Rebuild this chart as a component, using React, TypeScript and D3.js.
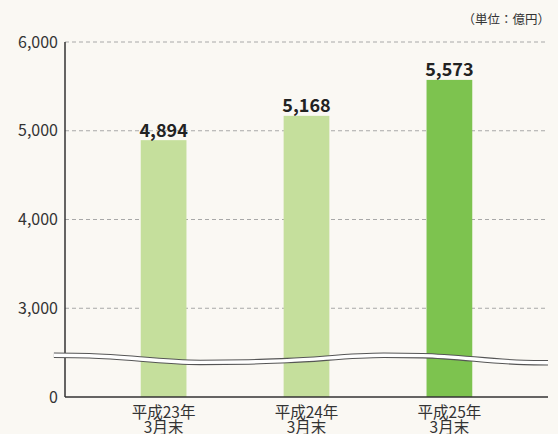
import React from "react";
import * as d3 from "d3";

const categories = ["平成23年\n3月末", "平成24年\n3月末", "平成25年\n3月末"];
const values = [4894, 5168, 5573];
const tickValues = [2000, 3000, 4000, 5000, 6000];
const tickLabels = ["0", "3,000", "4,000", "5,000", "6,000"];
const unitLabel = "（単位：億円）";
// break wave: [fraction across plot, value]
const breakWave: [number, number][] = [
  [-0.023, 2470],
  [0.05, 2465],
  [0.28, 2390],
  [0.38, 2395],
  [0.46, 2410],
  [0.66, 2470],
  [0.74, 2466],
  [0.95, 2390],
  [1.0, 2386],
];

const W = 558;
const H = 434;
const left = 65;
const right = 548;
const top = 42;
const bottom = 397;

export default function App() {
  const x = d3.scaleBand<string>().domain(categories).range([left, right]).paddingInner(0.68).paddingOuter(0.53);
  const y = d3.scaleLinear().domain([2000, 6000]).range([bottom, top]);
  const font = "'Noto Sans CJK JP', 'Noto Sans', sans-serif";
  const colors = ["#c5df9c", "#c5df9c", "#7dc34f"];
  const line = d3
    .line<[number, number]>()
    .x((d) => left + d[0] * (right - left))
    .y((d) => y(d[1]))
    .curve(d3.curveMonotoneX);
  const wavePath = line(breakWave) || "";
  return (
    <svg width={W} height={H} style={{ position: "absolute", left: 0, top: 0 }} fontFamily={font}>
      <rect x={0} y={0} width={W} height={H} fill="#faf8f3" />
      {tickValues.slice(1).map((t) => (
        <line key={t} x1={left} x2={right} y1={y(t)} y2={y(t)} stroke="#a8a8a8" strokeWidth={1} strokeDasharray="4,3" />
      ))}
      {tickValues.map((t, i) => (
        <text key={t} x={58} y={y(t) + 5.5} textAnchor="end" fontSize={16} fill="#333">
          {tickLabels[i]}
        </text>
      ))}
      {categories.map((c, i) => (
        <rect key={c} x={x(c)} y={y(values[i])} width={x.bandwidth()} height={bottom - y(values[i])} fill={colors[i]} />
      ))}
      {categories.map((c, i) => (
        <text
          key={c + "v"}
          x={(x(c) || 0) + x.bandwidth() / 2}
          y={y(values[i]) - 3.5}
          textAnchor="middle"
          fontSize={18}
          fontWeight="bold"
          fill="#222"
        >
          {d3.format(",")(values[i])}
        </text>
      ))}
      <line x1={left} x2={left} y1={top} y2={bottom} stroke="#333" strokeWidth={1.5} />
      <line x1={left} x2={right} y1={bottom} y2={bottom} stroke="#333" strokeWidth={1.5} />
      <path d={wavePath} fill="none" stroke="#555" strokeWidth={5.5} />
      <path d={wavePath} fill="none" stroke="#ffffff" strokeWidth={3.4} />
      {categories.map((c) => {
        const [l1, l2] = c.split("\n");
        const cx = (x(c) || 0) + x.bandwidth() / 2;
        return (
          <g key={c + "l"}>
            <text x={cx} y={418} textAnchor="middle" fontSize={15.5} fill="#333">
              {l1}
            </text>
            <text x={cx} y={433} textAnchor="middle" fontSize={15.5} fill="#333">
              {l2}
            </text>
          </g>
        );
      })}
      <text x={550} y={24} textAnchor="end" fontSize={12.5} fill="#333">
        {unitLabel}
      </text>
    </svg>
  );
}
